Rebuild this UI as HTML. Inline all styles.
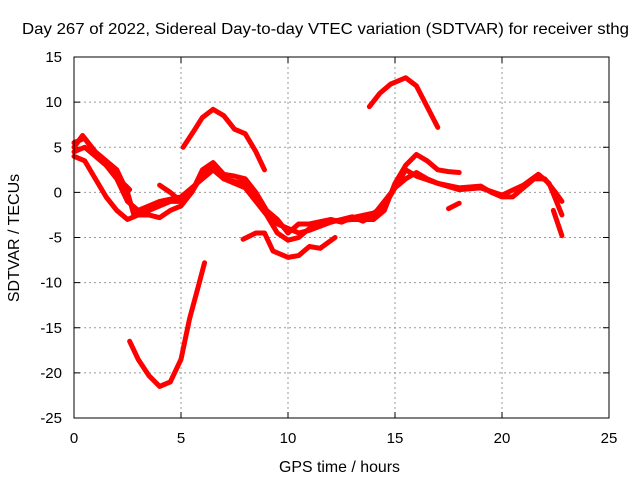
<!DOCTYPE html>
<html><head><meta charset="utf-8"><style>
body{margin:0;background:#fff}
svg{display:block;font-family:"Liberation Sans",sans-serif;font-size:15px}
</style></head><body>
<svg id="c" width="640" height="480"></svg>
<script>
const xTicks=[0,5,10,15,20,25];
const yTicks=[15,10,5,0,-5,-10,-15,-20,-25];
const arcA=[[5.1,5],[5.6,6.8],[6.0,8.3],[6.5,9.2],[7.0,8.5],[7.5,7],[8.0,6.5],[8.5,4.5],[8.9,2.5]];
const arcB=[[13.8,9.5],[14.3,11],[14.8,12],[15.5,12.7],[16.0,11.8],[16.5,9.5],[17.0,7.2]];
const arcC=[[2.6,-16.5],[3.0,-18.5],[3.5,-20.3],[4.0,-21.5],[4.5,-21],[5.0,-18.5],[5.4,-14],[5.8,-10.5],[6.1,-7.8]];
const arcD=[[0,5],[0.4,6.3],[0.8,5],[1.3,3.5],[1.8,2.5],[2.3,1],[2.6,0.3]];
const arcE=[[0,4],[0.5,3.5],[1,1.5],[1.5,-0.5],[2,-2],[2.5,-3],[3,-2.5],[3.5,-2.5],[4.0,-2.8],[4.5,-2],[5.0,-1.5],[5.5,0],[6.0,2],[6.5,3],[7,1.5],[7.5,1],[8,0.5],[8.5,-1],[9,-2.5],[9.5,-4.5],[10,-5.3],[10.5,-5],[11,-4],[11.5,-3.5],[12,-3.2],[13,-3],[14,-3],[14.5,-2],[15,1],[15.5,3],[16,4.2],[16.5,3.5],[17,2.5],[17.5,2.3],[18,2.2]];
const arcF=[[0,4.5],[0.5,5],[1,4],[1.5,3],[2,1.5],[2.5,-1],[3,-2],[4,-1],[5,-0.5],[5.5,0.5],[6,1.5],[6.5,2.5],[7,1.5],[7.5,1.2],[8,1],[8.5,-0.5],[9,-2],[9.5,-3.5],[10,-4],[10.5,-4.5],[11,-4.2],[12,-3.3],[13,-2.7],[13.5,-3.2],[14,-2.5],[14.5,-1],[15,0.5],[15.5,1.5],[16,2.2],[16.5,1.5],[17,1],[18,0.5],[19,0.7],[19.5,0],[20,-0.5],[20.5,-0.5],[21,0.5],[21.5,1.5],[22,1.5],[22.5,0],[22.8,-1]];
const arcG=[[0,5.5],[0.5,6],[1,4.5],[1.5,3.5],[2,2.5],[2.5,0],[2.8,-2.5],[3.5,-2],[4,-1.5],[4.5,-1],[5,-1],[5.5,0],[6,2.5],[6.5,3.3],[7,2],[7.5,1.8],[8,1.5],[8.5,0],[9,-2],[9.5,-3],[10,-4.5],[10.5,-3.5],[11,-3.5],[12,-3],[12.5,-3.3],[13,-2.8],[14,-2.3],[14.5,-1.5],[15,0.5],[15.5,2.5],[16,1.8],[17,1],[18,0.3],[19,0.5],[20,-0.3],[21,0.8],[21.7,2],[22.2,1],[22.8,-2.5]];
const arcH=[[7.9,-5.2],[8.5,-4.5],[8.9,-4.5],[9.3,-6.5],[10,-7.2],[10.5,-7],[11,-6],[11.5,-6.2],[12.2,-5]];
const arcI=[[4.0,0.8],[4.5,0],[5,-1],[5.3,-0.5]];
const arcJ=[[17.5,-1.8],[18,-1.2]];
const arcK=[[22.4,-2],[22.8,-4.8]];
const arcs=[arcA,arcB,arcC,arcD,arcE,arcF,arcG,arcH,arcI,arcJ,arcK];
const X0=74,X1=609,Y0=57,Y1=418;
const sx=v=>X0+(v-0)/25*(X1-X0);
const sy=v=>Y0+(15-v)/40*(Y1-Y0);
const s=document.getElementById('c');const NS='http://www.w3.org/2000/svg';
function mk(t,a,p){const e=document.createElementNS(NS,t);for(const k in a)e.setAttribute(k,a[k]);(p||s).appendChild(e);return e;}
xTicks.forEach(t=>{const x=sx(t);
 if(t>0&&t<25){const g=mk('line',{x1:x,y1:Y0,x2:x,y2:Y1,stroke:'#999','stroke-dasharray':'2,3'});}
 mk('line',{x1:x,y1:Y1,x2:x,y2:Y1-6,stroke:'#000'});mk('line',{x1:x,y1:Y0,x2:x,y2:Y0+6,stroke:'#000'});
 const l=mk('text',{x:x,y:443,'text-anchor':'middle'});l.textContent=t;
 });
yTicks.forEach(t=>{const y=sy(t);
 if(t<15&&t>-25){const g=mk('line',{x1:X0,y1:y,x2:X1,y2:y,stroke:'#999','stroke-dasharray':'2,3'});}
 mk('line',{x1:X0,y1:y,x2:X0+6,y2:y,stroke:'#000'});mk('line',{x1:X1,y1:y,x2:X1-6,y2:y,stroke:'#000'});
 const l=mk('text',{x:62,y:y+5,'text-anchor':'end'});l.textContent=t;
 });
arcs.forEach(a=>{const p=mk('polyline',{points:a.map(d=>sx(d[0])+','+sy(d[1])).join(' '),fill:'none',stroke:'#f00','stroke-width':5,'stroke-linejoin':'round','stroke-linecap':'round'});
 });
const fr=mk('rect',{x:X0,y:Y0,width:X1-X0,height:Y1-Y0,fill:'none',stroke:'#000'});

const ti=mk('text',{x:22,y:34,textLength:607,lengthAdjust:'spacingAndGlyphs','font-size':16});ti.textContent='Day 267 of 2022, Sidereal Day-to-day VTEC variation (SDTVAR) for receiver sthg';

const xt=mk('text',{x:279,y:472,textLength:121,lengthAdjust:'spacingAndGlyphs','font-size':16});xt.textContent='GPS time / hours';

const yt=mk('text',{x:19,y:238,'text-anchor':'middle','font-size':16,transform:'rotate(-90 19 238)'});yt.textContent='SDTVAR / TECUs';

</script></body></html>
